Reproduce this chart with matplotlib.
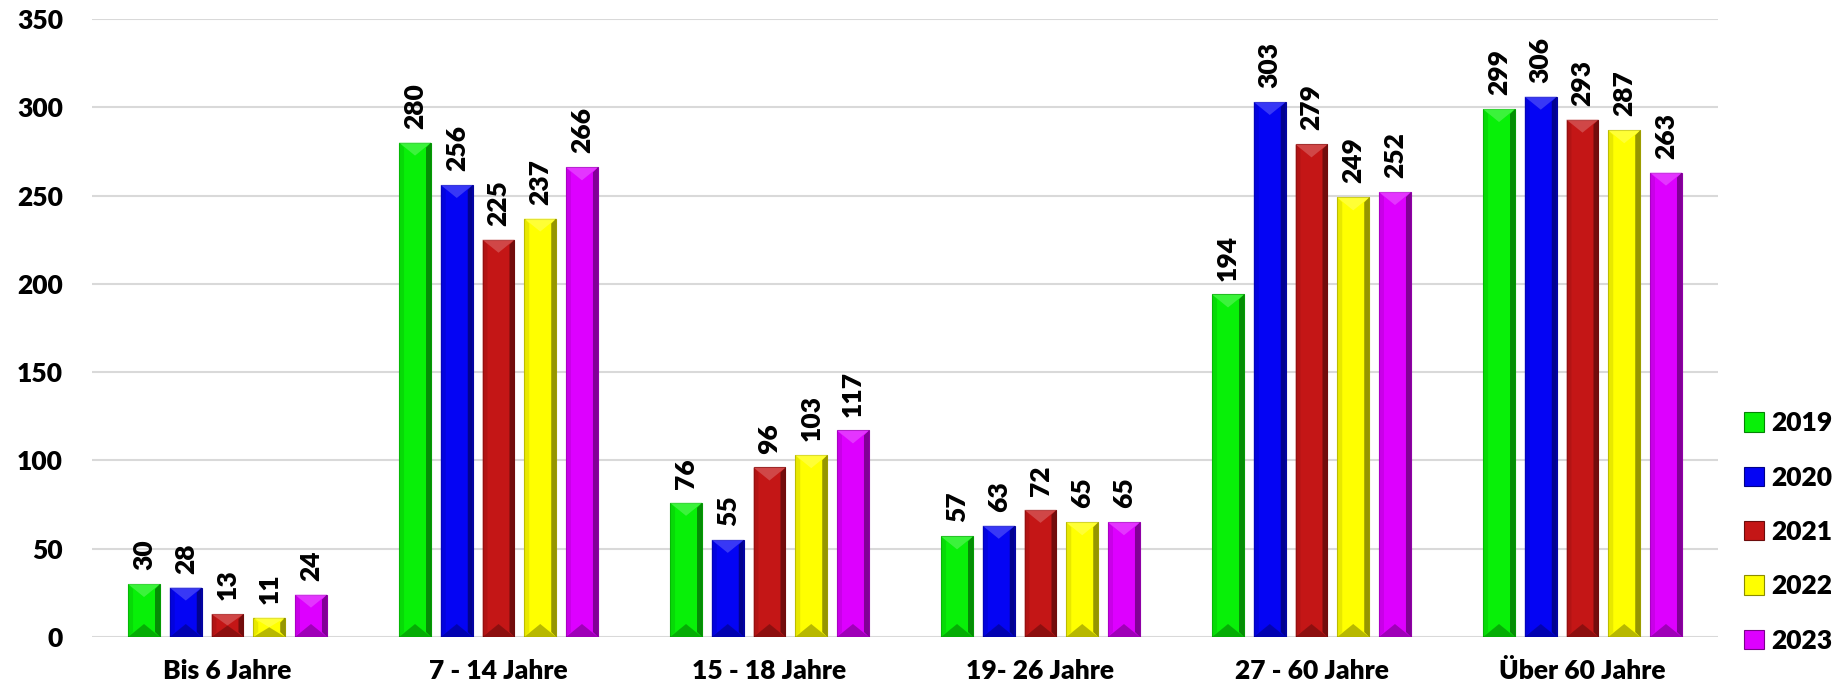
import numpy as np
import matplotlib
matplotlib.use("Agg")
import matplotlib.pyplot as plt
from matplotlib.patches import Polygon, Patch
from matplotlib import colors as mcolors

categories = ["Bis 6 Jahre", "7 - 14 Jahre", "15 - 18 Jahre", "19- 26 Jahre",
              "27 - 60 Jahre", "Über 60 Jahre"]
years = ["2019", "2020", "2021", "2022", "2023"]
v2019 = [30, 280, 76, 57, 194, 299]
v2020 = [28, 256, 55, 63, 303, 306]
v2021 = [13, 225, 96, 72, 279, 293]
v2022 = [11, 237, 103, 65, 249, 287]
v2023 = [24, 266, 117, 65, 252, 263]
series = [v2019, v2020, v2021, v2022, v2023]
colors = ["#08f008", "#0404f4", "#c41616", "#ffff00", "#dd00ff"]

plt.rcParams["font.family"] = ["Lato", "DejaVu Sans"]
fw = "heavy"
plt.rcParams["font.weight"] = fw
fs = 19


def shade(c, f):
    r = np.array(mcolors.to_rgb(c))
    if f > 0:
        return tuple(r + (1 - r) * f)
    return tuple(r * (1 + f))


fig = plt.figure(figsize=(18.42, 6.95), dpi=100)
ax = fig.add_axes([92 / 1842, 1 - 637 / 695, 1626 / 1842, 618 / 695])
ax.set_xlim(-0.5, 5.5)
ax.set_ylim(0, 350)

x = np.arange(len(categories))
pitch = 0.154
width = 0.118
px_x = (6.0 / 1626)      # data x per pixel
px_y = (350.0 / 618)     # data y per pixel

for i, (vals, col) in enumerate(zip(series, colors)):
    xs = x + (i - 2) * pitch
    bars = ax.bar(xs, vals, width, color=col, edgecolor=shade(col, -0.35),
                  linewidth=0.8, zorder=3, label=years[i])
    for b, v in zip(bars, vals):
        x0 = b.get_x()
        x1 = x0 + b.get_width()
        xc = (x0 + x1) / 2
        h = b.get_height()
        bs = 5 * px_x
        bd = 5 * px_y
        td = min(13 * px_y, h / 2)
        dark = shade(col, -0.55)
        light = shade(col, 0.3)
        ax.add_patch(Polygon([(x1 - bs, bd), (x1, 0), (x1, h), (x1 - bs, h - bd)],
                             closed=True, fc=dark, ec="none", alpha=0.75, zorder=4))
        ax.add_patch(Polygon([(x0, 0), (x0 + bs, bd), (x0 + bs, h - bd), (x0, h)],
                             closed=True, fc=shade(col, -0.15), ec="none", alpha=0.6, zorder=4))
        ax.add_patch(Polygon([(x0, h), (x1, h), (xc, h - td)],
                             closed=True, fc=light, ec="none", alpha=0.7, zorder=4))
        ax.add_patch(Polygon([(x0, 0), (x1, 0), (xc, td)],
                             closed=True, fc=dark, ec="none", alpha=0.5, zorder=4))
        ax.annotate(str(v), (xc, h), xytext=(0, 10), textcoords="offset points",
                    rotation=90, ha="center", va="bottom", fontsize=fs,
                    fontweight=fw, zorder=5)

ax.set_xticks(x)
ax.set_xticklabels(categories, fontsize=fs, fontweight=fw)
ax.set_yticks(np.arange(0, 351, 50))
ax.tick_params(axis="y", length=0, pad=21, labelsize=fs)
ax.tick_params(axis="x", length=0, pad=16, labelsize=fs)
ax.grid(axis="y", color="#d9d9d9", linewidth=1.5)
ax.set_axisbelow(True)
for s in ax.spines.values():
    s.set_visible(False)

handles = [Patch(facecolor=c, edgecolor=shade(c, -0.45), linewidth=0.8) for c in colors]
ax.legend(handles, years, loc="center left", bbox_to_anchor=(1.016, 0.17),
          frameon=False, fontsize=fs, handlelength=0.75, handleheight=0.75,
          handletextpad=0.3, labelspacing=1.15, borderpad=0, borderaxespad=0)

fig.savefig("out.png", dpi=100)
